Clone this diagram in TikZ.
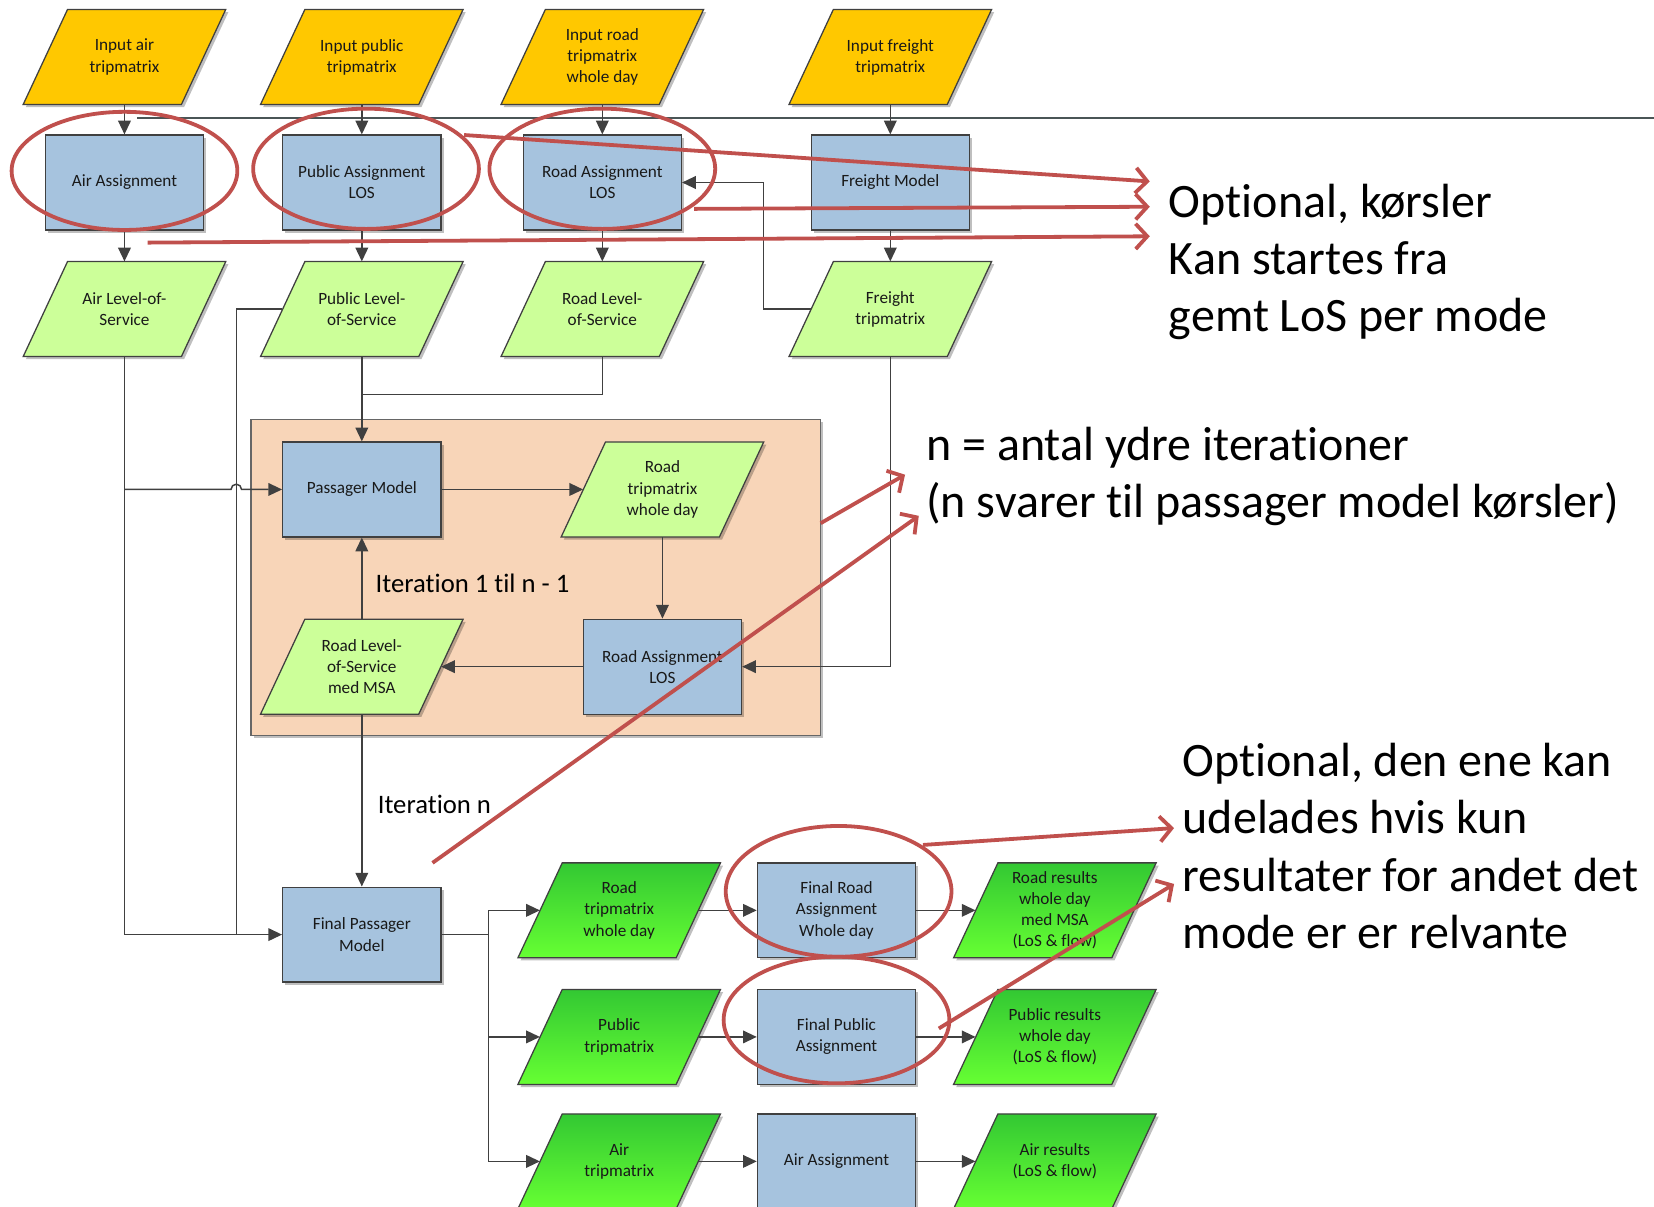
\documentclass[tikz,border=0pt]{standalone}
\usepackage{fontspec}
\setmainfont{Carlito}[Ligatures=NoCommon]
\usetikzlibrary{arrows.meta,shapes.geometric,shadows,calc}
\definecolor{edge}{HTML}{404040}
\definecolor{topline}{HTML}{4A5556}
\definecolor{inyellow}{HTML}{FFC800}
\definecolor{boxblue}{HTML}{A6C3DE}
\definecolor{lgreen}{HTML}{CCFF99}
\definecolor{gtop}{HTML}{33C833}
\definecolor{gbot}{HTML}{66FF33}
\definecolor{peach}{HTML}{F8D5B8}
\definecolor{annred}{HTML}{C0504D}
\newcommand\mypara[5]{%
  \path[#4] (#2-96,#3+45) -- (#2+54,#3+45) -- (#2+96,#3-45) -- (#2-54,#3-45) -- cycle;
  \node[ptext] (#1) at (#2,#3) {#5};}
\begin{document}
\begin{tikzpicture}[x=1pt,y=-1pt,
  every node/.style={font=\fontsize{16.3}{20}\selectfont, text=black!90},
  shad/.style={drop shadow={shadow xshift=2.5pt,shadow yshift=-2.5pt,opacity=.25,fill=black}},
  box/.style={draw=edge, line width=1.2pt, fill=boxblue, shad, minimum width=150pt, minimum height=90pt, align=center, inner sep=1pt},
  ptext/.style={minimum width=150pt, minimum height=90pt, align=center, inner sep=0pt},
  pyel/.style={draw=edge, line width=1.2pt, fill=inyellow, shad},
  plg/.style={draw=edge, line width=1.2pt, fill=lgreen, shad},
  pbg/.style={draw=edge, line width=1.2pt, top color=gtop, bottom color=gbot, shad},
  region/.style={draw=edge!80, line width=1.2pt, fill=peach, shad, minimum width=540pt, minimum height=299pt},
  ln/.style={draw=edge, line width=1.4pt},
  arr/.style={ln, -{Triangle[length=13pt,width=12pt]}},
  redl/.style={draw=annred, line width=3.6pt},
  redell/.style={redl, ellipse, inner sep=0pt},
  redarr/.style={redl, -{Straight Barb[length=11pt,width=24pt,line width=3.6pt]}},
  ann/.style={font=\fontsize{45.5}{54}\selectfont, text=black, anchor=base west, inner sep=0pt},
  itl/.style={font=\fontsize{25.3}{30}\selectfont, text=black, anchor=base west, inner sep=0pt}
]
\useasboundingbox (0,0) rectangle (1568,1144);

% iteration region
\node[region] (iter) at (508,547.5) {};

% row 1: inputs
\mypara{inair}{118}{54}{pyel}{Input air\\tripmatrix}
\mypara{inpub}{343}{54}{pyel}{Input public\\tripmatrix}
\mypara{inroad}{571}{54}{pyel}{Input road\\tripmatrix\\whole day}
\mypara{infr}{844}{54}{pyel}{Input freight\\tripmatrix}

% row 2: assignments
\node[box] (airas) at (118,173) {Air Assignment};
\node[box] (pubas) at (343,173) {Public Assignment\\LOS};
\node[box] (roadas) at (571,173) {Road Assignment\\LOS};
\node[box] (frm) at (844,173) {Freight Model};

% row 3
\mypara{airlos}{118}{293}{plg}{Air Level-of-\\Service}
\mypara{publos}{343}{293}{plg}{Public Level-\\of-Service}
\mypara{roadlos}{571}{293}{plg}{Road Level-\\of-Service}
\mypara{frtrip}{844}{293}{plg}{Freight\\tripmatrix}

% iteration loop
\node[box] (pm) at (343,464) {Passager Model};
\mypara{rtwd}{628}{464}{plg}{Road\\tripmatrix\\whole day}
\node[box] (ra2) at (628,632) {Road Assignment\\LOS};
\mypara{rmsa}{343}{632}{plg}{Road Level-\\of-Service\\med MSA}
\node[itl] (itlab) at (356,562) {Iteration 1 til n - 1};
\node[itl] (itnlab) at (358,771) {Iteration n};

% final
\node[box] (fpm) at (343,886) {Final Passager\\Model};
\mypara{rtw2}{587}{863}{pbg}{Road\\tripmatrix\\whole day}
\mypara{pt2}{587}{983}{pbg}{Public\\tripmatrix}
\mypara{at2}{587}{1101}{pbg}{Air\\tripmatrix}
\node[box] (fra) at (793,863) {Final Road\\Assignment\\Whole day};
\node[box] (fpa) at (793,983) {Final Public\\Assignment};
\node[box] (faa) at (793,1101) {Air Assignment};
\mypara{rres}{1000}{863}{pbg}{Road results\\whole day\\med MSA\\(LoS \& flow)}
\mypara{pres}{1000}{983}{pbg}{Public results\\whole day\\(LoS \& flow)}
\mypara{ares}{1000}{1101}{pbg}{Air results\\(LoS \& flow)}

% top horizontal line
\coordinate (h1) at (130,112);
\coordinate (h2) at (1568,112);
\draw[ln, draw=topline] (h1) -- (h2);

% connectors top
\foreach \a/\b in {inair/airas, inpub/pubas, inroad/roadas, infr/frm,
                   airas/airlos, pubas/publos, roadas/roadlos, frm/frtrip}
  \draw[arr] (\a.south) -- (\b.north);

\coordinate (k1) at (724,173);
\draw[arr] (frtrip.west) -| (k1) -- (roadas.east);

\coordinate (m1) at (343,374);
\draw[ln] (roadlos.south) |- (m1);
\draw[arr] (publos.south) -- (pm.north);

% left feeders
\coordinate (j1) at (224,886);
\draw[ln] (publos.west) -| (j1);
\draw[arr] (airlos.south) |- (fpm.west);
\coordinate (hj) at (118,464);
\coordinate (hp) at (224,464);
\draw[arr] (hj) -- ($(hp)+(-5,0)$) arc[start angle=180,end angle=0,radius=5pt] -- (pm.west);

% loop
\draw[arr] (pm.east) -- (rtwd);
\draw[arr] (rtwd.south) -- (ra2.north);
\draw[arr] (ra2.west) -- (rmsa);
\draw[arr] (rmsa.north) -- (pm.south);
\draw[arr] (frtrip.south) |- (ra2.east);
\draw[arr] (rmsa.south) -- (fpm.north);

% final fan out
\coordinate (f0) at (463,886);
\draw[ln] (fpm.east) -- (f0);
\draw[arr] (f0) |- (rtw2.west);
\draw[arr] (f0) |- (pt2.west);
\draw[arr] (f0) |- (at2.west);
\foreach \a/\b in {rtw2/fra, pt2/fpa, at2/faa, fra/rres, fpa/pres, faa/ares}
  \draw[arr] (\a) -- (\b);

% red annotations
\node[redell, minimum width=214pt, minimum height=112pt] (e1) at (118,162) {};
\node[redell, minimum width=214pt, minimum height=114pt] (e2) at (347,160) {};
\node[redell, minimum width=214pt, minimum height=114pt] (e3) at (571,160) {};
\node[redell, minimum width=214pt, minimum height=124pt] (e4) at (795,845) {};
\node[redell, minimum width=214pt, minimum height=120pt] (e5) at (793,967) {};

\coordinate (r1s) at (440,128); \coordinate (r1e) at (1090,172);
\coordinate (r2s) at (658,198); \coordinate (r2e) at (1090,196);
\coordinate (r3s) at (140,230); \coordinate (r3e) at (1090,224);
\coordinate (r4s) at (778,496); \coordinate (r4e) at (858,450);
\coordinate (r5s) at (410,818); \coordinate (r5e) at (871,489);
\coordinate (r6s) at (875,801); \coordinate (r6e) at (1113,785);
\coordinate (r7s) at (890,975); \coordinate (r7e) at (1113,838);
\foreach \i in {1,...,7} \draw[redarr] (r\i s) -- (r\i e);

% annotation texts
\node[ann] (t1a) at (1108,206) {Optional, kørsler};
\node[ann] (t1b) at (1108,260) {Kan startes fra};
\node[ann] (t1c) at (1108,314) {gemt LoS per mode};
\node[ann] (t2a) at (878,437) {n = antal ydre iterationer};
\node[ann] (t2b) at (878,491) {(n svarer til passager model kørsler)};
\node[ann] (t3a) at (1121,736) {Optional, den ene kan};
\node[ann] (t3b) at (1121,790) {udelades hvis kun};
\node[ann] (t3c) at (1121,845) {resultater for andet det};
\node[ann] (t3d) at (1121,899) {mode er er relvante};
\end{tikzpicture}
\end{document}
